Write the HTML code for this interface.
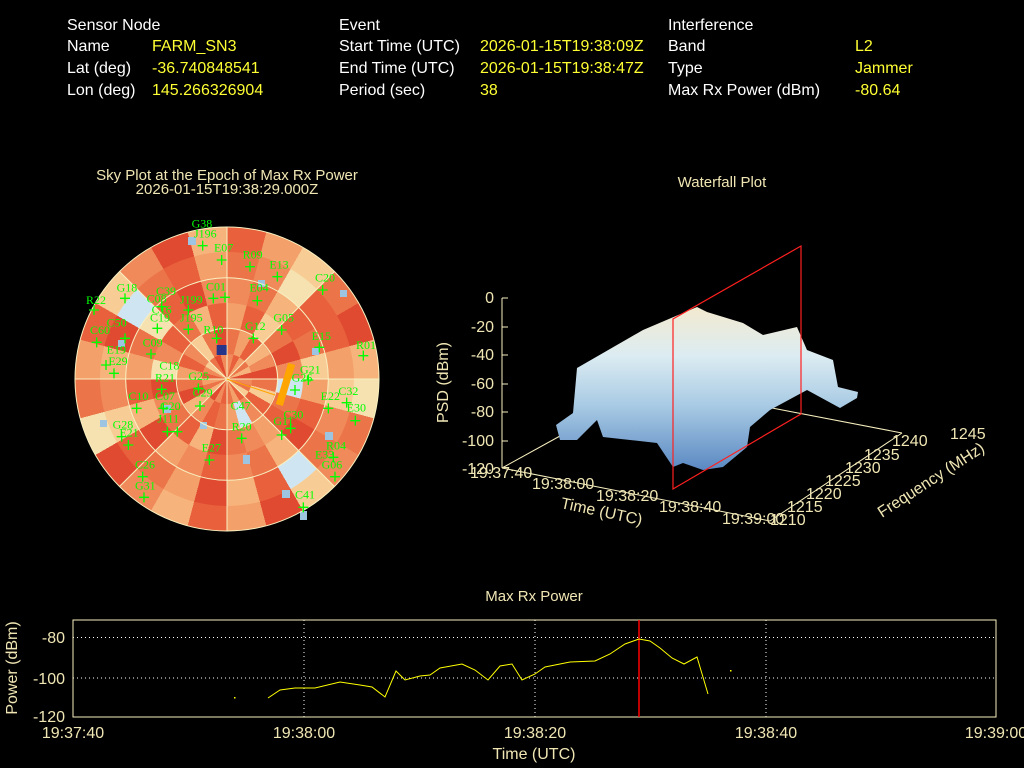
<!DOCTYPE html>
<html><head><meta charset="utf-8"><style>
html,body{margin:0;padding:0;background:#000;width:1024px;height:768px;overflow:hidden;}
svg{position:absolute;left:0;top:0;display:block;font-family:"Liberation Sans",sans-serif;}
.r{position:absolute;border-radius:50%;}
</style></head><body>
<div class="r" style="left:75px;top:227px;width:304px;height:304px;background:conic-gradient(#e8603c 0 15deg,#f4a06a 0 30deg,#f8cd95 0 45deg,#ec7449 0 60deg,#e04a30 0 75deg,#f6b47c 0 90deg,#f5e2b0 0 105deg,#ec7449 0 120deg,#f08a5a 0 135deg,#f8cd95 0 150deg,#e04a30 0 165deg,#f4a06a 0 180deg,#e8603c 0 195deg,#f6b47c 0 210deg,#f08a5a 0 225deg,#e04a30 0 240deg,#f5e2b0 0 255deg,#ec7449 0 270deg,#f4a06a 0 285deg,#e8603c 0 300deg,#f8cd95 0 315deg,#f08a5a 0 330deg,#e04a30 0 345deg,#f6b47c 0 360deg);"></div>
<div class="r" style="left:100px;top:252px;width:254px;height:254px;background:conic-gradient(#ec7449 0 15deg,#f08a5a 0 30deg,#f5e2b0 0 45deg,#e8603c 0 60deg,#e8603c 0 75deg,#f4a06a 0 90deg,#f8cd95 0 105deg,#f08a5a 0 120deg,#ec7449 0 135deg,#cfe6f2 0 150deg,#e8603c 0 165deg,#f6b47c 0 180deg,#e04a30 0 195deg,#f4a06a 0 210deg,#ec7449 0 225deg,#e8603c 0 240deg,#f8cd95 0 255deg,#f08a5a 0 270deg,#f6b47c 0 285deg,#e04a30 0 300deg,#cfe6f2 0 315deg,#ec7449 0 330deg,#e8603c 0 345deg,#f4a06a 0 360deg);"></div>
<div class="r" style="left:126px;top:278px;width:202px;height:202px;background:conic-gradient(#f08a5a 0 15deg,#ec7449 0 30deg,#f6b47c 0 45deg,#e8603c 0 60deg,#ec7449 0 75deg,#f8cd95 0 90deg,#f4a06a 0 105deg,#e8603c 0 120deg,#e04a30 0 135deg,#f6b47c 0 150deg,#ec7449 0 165deg,#f08a5a 0 180deg,#e8603c 0 195deg,#f08a5a 0 210deg,#f4a06a 0 225deg,#e04a30 0 240deg,#f6b47c 0 255deg,#e8603c 0 270deg,#f4a06a 0 285deg,#ec7449 0 300deg,#f5e2b0 0 315deg,#e8603c 0 330deg,#e04a30 0 345deg,#f08a5a 0 360deg);"></div>
<div class="r" style="left:151px;top:303px;width:152px;height:152px;background:conic-gradient(#f4a06a 0 15deg,#e8603c 0 30deg,#f8cd95 0 45deg,#ec7449 0 60deg,#e04a30 0 75deg,#f08a5a 0 90deg,#cfe6f2 0 105deg,#ec7449 0 120deg,#e8603c 0 135deg,#f4a06a 0 150deg,#f08a5a 0 165deg,#ec7449 0 180deg,#e04a30 0 195deg,#f6b47c 0 210deg,#e8603c 0 225deg,#ec7449 0 240deg,#f08a5a 0 255deg,#e04a30 0 270deg,#f5e2b0 0 285deg,#f08a5a 0 300deg,#e8603c 0 315deg,#ec7449 0 330deg,#f6b47c 0 345deg,#e8603c 0 360deg);"></div>
<div class="r" style="left:177px;top:329px;width:100px;height:100px;background:conic-gradient(#ec7449 0 15deg,#f4a06a 0 30deg,#e8603c 0 45deg,#f6b47c 0 60deg,#f08a5a 0 75deg,#e04a30 0 90deg,#ec7449 0 105deg,#f8cd95 0 120deg,#e8603c 0 135deg,#f08a5a 0 150deg,#cfe6f2 0 165deg,#f4a06a 0 180deg,#ec7449 0 195deg,#e8603c 0 210deg,#f08a5a 0 225deg,#f6b47c 0 240deg,#e04a30 0 255deg,#ec7449 0 270deg,#f4a06a 0 285deg,#e8603c 0 300deg,#f08a5a 0 315deg,#f8cd95 0 330deg,#ec7449 0 345deg,#e04a30 0 360deg);"></div>
<div class="r" style="left:202px;top:354px;width:50px;height:50px;background:conic-gradient(#f08a5a 0 15deg,#e8603c 0 30deg,#f4a06a 0 45deg,#ec7449 0 60deg,#f6b47c 0 75deg,#e04a30 0 90deg,#f08a5a 0 105deg,#ec7449 0 120deg,#f8cd95 0 135deg,#e8603c 0 150deg,#f4a06a 0 165deg,#ec7449 0 180deg,#e8603c 0 195deg,#f08a5a 0 210deg,#e04a30 0 225deg,#f6b47c 0 240deg,#ec7449 0 255deg,#f4a06a 0 270deg,#e8603c 0 285deg,#f08a5a 0 300deg,#f8cd95 0 315deg,#ec7449 0 330deg,#e04a30 0 345deg,#f08a5a 0 360deg);"></div>
<svg width="1024" height="768" viewBox="0 0 1024 768" xmlns="http://www.w3.org/2000/svg">
<g font-size="16">
<g fill="#fff">
<text x="67" y="30">Sensor Node</text><text x="67" y="51">Name</text><text x="67" y="73">Lat (deg)</text><text x="67" y="95">Lon (deg)</text>
<text x="339" y="30">Event</text><text x="339" y="51">Start Time (UTC)</text><text x="339" y="73">End Time (UTC)</text><text x="339" y="95">Period (sec)</text>
<text x="668" y="30">Interference</text><text x="668" y="51">Band</text><text x="668" y="73">Type</text><text x="668" y="95">Max Rx Power (dBm)</text>
</g>
<g fill="#ffff33">
<text x="152" y="51">FARM_SN3</text><text x="152" y="73">-36.740848541</text><text x="152" y="95">145.266326904</text>
<text x="480" y="51">2026-01-15T19:38:09Z</text><text x="480" y="73">2026-01-15T19:38:47Z</text><text x="480" y="95">38</text>
<text x="855" y="51">L2</text><text x="855" y="73">Jammer</text><text x="855" y="95">-80.64</text>
</g>
</g>
<g fill="#f0e6b4" font-size="15" text-anchor="middle">
<text x="227" y="180">Sky Plot at the Epoch of Max Rx Power</text>
<text x="227" y="194">2026-01-15T19:38:29.000Z</text>
<text x="722" y="187">Waterfall Plot</text>
<text x="534" y="601">Max Rx Power</text>
</g>
<g fill="#9dc4e0">
<rect x="163" y="405" width="8" height="8"/><rect x="118" y="340" width="7" height="7"/><rect x="282" y="490" width="8" height="8"/><rect x="312" y="348" width="7" height="7"/><rect x="258" y="280" width="7" height="7"/><rect x="325" y="432" width="8" height="8"/><rect x="300" y="511" width="7" height="9"/><rect x="243" y="455" width="7" height="9"/><rect x="200" y="422" width="7" height="7"/><rect x="340" y="290" width="7" height="7"/><rect x="188" y="237" width="8" height="8"/><rect x="100" y="420" width="7" height="7"/>
</g>
<g stroke="#f8f0c0" stroke-width="1" fill="none">
<circle cx="227" cy="379" r="50.7"/><circle cx="227" cy="379" r="101.3"/><circle cx="227" cy="379" r="152"/>
<line x1="75" y1="379" x2="379" y2="379"/><line x1="227" y1="227" x2="227" y2="531"/>
<line x1="119.5" y1="271.5" x2="334.5" y2="486.5"/><line x1="119.5" y1="486.5" x2="334.5" y2="271.5"/>
</g>
<g transform="translate(70,210) scale(0.33333)">
<line x1="470" y1="507" x2="615" y2="555" stroke="#ffa500" stroke-width="3"/>
<line x1="665" y1="462" x2="628" y2="585" stroke="#ffa500" stroke-width="22"/>
<rect x="440" y="405" width="30" height="30" fill="#26348a"/>
<g fill="#00ff00" font-family="Liberation Serif,serif" font-size="36">
<text x="140" y="245">G18</text><text x="48" y="282">R22</text><text x="258" y="255">C39</text><text x="330" y="280">J199</text><text x="230" y="278">C08</text><text x="245" y="310">C16</text><text x="240" y="335">C19</text><text x="330" y="335">J195</text><text x="400" y="370">R10</text><text x="525" y="360">G12</text><text x="610" y="335">G05</text><text x="725" y="390">E15</text><text x="858" y="417">R01</text><text x="690" y="490">G21</text><text x="735" y="215">C20</text><text x="598" y="175">E13</text><text x="518" y="145">R09</text><text x="432" y="125">E07</text><text x="372" y="82">J196</text><text x="365" y="52">G38</text><text x="408" y="242">C01</text><text x="538" y="245">E04</text><text x="218" y="410">C09</text><text x="110" y="430">E19</text><text x="115" y="465">E29</text><text x="60" y="372">C60</text><text x="110" y="350">C50</text><text x="268" y="478">C18</text><text x="255" y="515">R21</text><text x="355" y="510">G25</text><text x="368" y="560">C29</text><text x="175" y="570">C10</text><text x="255" y="570">C07</text><text x="270" y="600">G20</text><text x="262" y="638">J111</text><text x="482" y="598">C47</text><text x="485" y="662">R20</text><text x="610" y="645">G11</text><text x="640" y="625">C30</text><text x="752" y="570">E22</text><text x="805" y="555">C32</text><text x="830" y="605">E30</text><text x="768" y="718">R04</text><text x="735" y="745">E33</text><text x="755" y="775">G06</text><text x="195" y="775">C26</text><text x="195" y="838">G31</text><text x="128" y="655">G28</text><text x="148" y="680">E21</text><text x="395" y="725">E27</text><text x="675" y="865">C41</text><text x="665" y="515">G26</text>
</g>
<path stroke="#00ff00" stroke-width="4" fill="none" d="M150,265h30M165,250v30M57,300h30M72,285v30M340,300h30M355,285v30M260,290h30M275,275v30M247,355h30M262,340v30M340,358h30M355,343v30M425,385h30M440,370v30M535,385h30M550,370v30M620,360h30M635,345v30M733,412h30M748,397v30M865,437h30M880,422v30M700,510h30M715,495v30M743,240h30M758,225v30M607,200h30M622,185v30M525,170h30M540,155v30M440,150h30M455,135v30M383,107h30M398,92v30M415,265h30M430,250v30M450,262h30M465,247v30M547,272h30M562,257v30M228,432h30M243,417v30M93,465h30M108,450v30M117,490h30M132,475v30M65,397h30M80,382v30M150,385h30M165,370v30M260,538h30M275,523v30M370,535h30M385,520v30M375,588h30M390,573v30M185,595h30M200,580v30M265,595h30M280,580v30M277,665h30M292,650v30M307,665h30M322,650v30M500,685h30M515,670v30M620,675h30M635,660v30M647,655h30M662,640v30M760,595h30M775,580v30M815,578h30M830,563v30M841,632h30M856,617v30M775,742h30M790,727v30M780,800h30M795,785v30M203,800h30M218,785v30M207,862h30M222,847v30M140,680h30M155,665v30M160,705h30M175,690v30M403,750h30M418,735v30M685,892h30M700,877v30M660,540h30M675,525v30"/>
</g>
<defs>
<linearGradient id="wg" x1="0" y1="0" x2="0" y2="1">
<stop offset="0" stop-color="#f3ead0"/><stop offset="0.3" stop-color="#dcecf2"/><stop offset="0.6" stop-color="#a9cbe4"/><stop offset="1" stop-color="#5a88c2"/>
</linearGradient>
</defs>
<g stroke="#f8f0c0" stroke-width="1" fill="none">
<line x1="502" y1="298" x2="502" y2="468"/>
<line x1="502" y1="468" x2="770" y2="521"/>
<line x1="770" y1="521" x2="902" y2="433"/>
<line x1="772" y1="408" x2="902" y2="433"/>
<line x1="502" y1="468" x2="560" y2="436"/>
</g>
<g stroke="#f8f0c0"><line x1="502" y1="298" x2="508" y2="298"/><line x1="502" y1="327" x2="508" y2="327"/><line x1="502" y1="355" x2="508" y2="355"/><line x1="502" y1="384" x2="508" y2="384"/><line x1="502" y1="412" x2="508" y2="412"/><line x1="502" y1="441" x2="508" y2="441"/></g>
<polygon fill="url(#wg)" points="556,425 573,413 577,368 643,330 697,307 707,312 743,323 763,335 797,327 807,350 833,360 838,387 858,392 857,398 840,408 807,390 770,410 750,427 747,447 723,467 703,470 683,463 673,467 657,443 630,440 603,437 597,420 577,440 560,440"/>
<g stroke="#ff2020" fill="none" stroke-width="1.2"><polygon points="673,489 673,319 801,246 801,414"/></g>
<g fill="#f0e6b4" font-size="16" text-anchor="end">
<text x="494" y="303">0</text><text x="494" y="332">-20</text><text x="494" y="360">-40</text><text x="494" y="389">-60</text><text x="494" y="417">-80</text><text x="494" y="446">-100</text><text x="494" y="474">-120</text>
</g>
<g fill="#f0e6b4" font-size="16">
<text x="470" y="478">19:37:40</text><text x="532" y="489">19:38:00</text><text x="596" y="501">19:38:20</text><text x="659" y="512">19:38:40</text><text x="722" y="524">19:39:00</text>
<text x="770" y="525">1210</text><text x="787" y="512">1215</text><text x="806" y="499">1220</text><text x="825" y="486">1225</text><text x="845" y="473">1230</text><text x="864" y="460">1235</text><text x="892" y="446">1240</text><text x="950" y="439">1245</text>
<text transform="translate(448,423) rotate(-90)">PSD (dBm)</text>
<text transform="translate(560,508) rotate(12)">Time (UTC)</text>
<text transform="translate(882,518) rotate(-33)">Frequency (MHz)</text>
</g>
<g stroke="#fff" stroke-dasharray="1,3" stroke-width="1">
<line x1="73" y1="637.5" x2="996" y2="637.5"/><line x1="73" y1="678" x2="996" y2="678"/>
<line x1="304" y1="620" x2="304" y2="717"/><line x1="535" y1="620" x2="535" y2="717"/><line x1="766" y1="620" x2="766" y2="717"/>
</g>
<rect x="73" y="620" width="923" height="97" fill="none" stroke="#f8f0c0"/>
<line x1="639" y1="620" x2="639" y2="717" stroke="#ff0000" stroke-width="1.5"/>
<polyline fill="none" stroke="#ffff00" stroke-width="1" points="268,698 280,690 295,688 315,688 340,682 360,685 372,687 385,697 396,671 405,680 420,676 430,675 440,668 462,664 475,670 488,680 500,666 512,664 522,680 535,674 545,667 570,662 595,661 610,654 625,644 639,639 650,641 660,648 672,658 684,664 697,657 708,694"/>
<rect x="234" y="697" width="1.5" height="1.5" fill="#ff0"/><rect x="730" y="670" width="1.5" height="1.5" fill="#ff0"/>
<g fill="#f0e6b4" font-size="16">
<g text-anchor="end"><text x="65" y="643">-80</text><text x="65" y="684">-100</text><text x="65" y="722">-120</text></g>
<g text-anchor="middle"><text x="73" y="738">19:37:40</text><text x="304" y="738">19:38:00</text><text x="535" y="738">19:38:20</text><text x="766" y="738">19:38:40</text><text x="996" y="738">19:39:00</text>
<text x="534" y="759">Time (UTC)</text>
<text transform="translate(17,668) rotate(-90)">Power (dBm)</text></g>
</g>
</svg>
</body></html>
